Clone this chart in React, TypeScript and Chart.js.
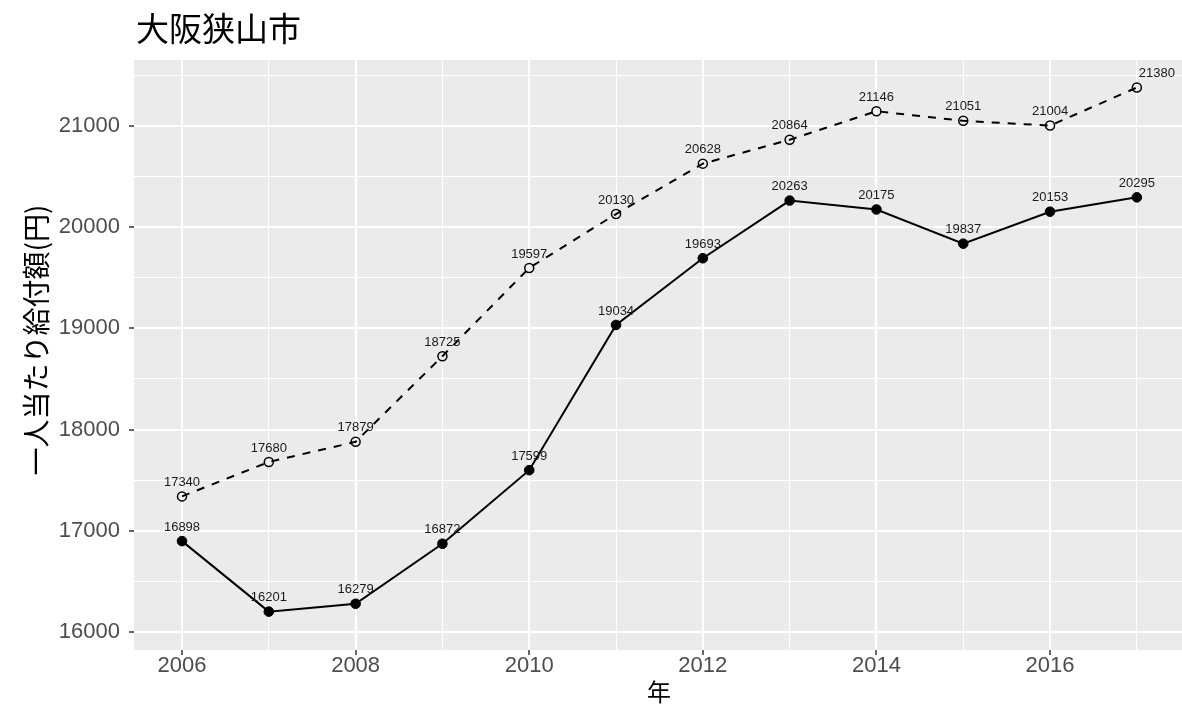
import React, { useEffect, useRef } from "react";
import { Chart, registerables } from "chart.js";

Chart.register(...registerables);

const years = [2006, 2007, 2008, 2009, 2010, 2011, 2012, 2013, 2014, 2015, 2016, 2017];
const solidValues = [16898, 16201, 16279, 16872, 17599, 19034, 19693, 20263, 20175, 19837, 20153, 20295];
const dashedValues = [17340, 17680, 17879, 18725, 19597, 20130, 20628, 20864, 21146, 21051, 21004, 21380];
const xGridValues = [2006, 2007, 2008, 2009, 2010, 2011, 2012, 2013, 2014, 2015, 2016, 2017];
const yGridValues = [16000, 16500, 17000, 17500, 18000, 18500, 19000, 19500, 20000, 20500, 21000, 21500];
const titleText = "大阪狭山市";
const xTitle = "年";
const yTitle = "一人当たり給付額(円)";

const CJK = '"Noto Sans CJK JP", "Noto Sans CJK SC", sans-serif';
const SANS = '"Liberation Sans", Arial, sans-serif';

const panelPlugin = {
  id: "panelBg",
  beforeDraw(chart: any) {
    const { ctx, chartArea } = chart;
    ctx.save();
    ctx.fillStyle = "#EBEBEB";
    ctx.fillRect(chartArea.left, chartArea.top, chartArea.right - chartArea.left, chartArea.bottom - chartArea.top);
    ctx.restore();
  },
  afterDraw(chart: any) {
    const { ctx } = chart;
    ctx.save();
    ctx.fillStyle = "#000000";
    ctx.font = `33px ${CJK}`;
    ctx.textAlign = "left";
    ctx.textBaseline = "alphabetic";
    ctx.fillText(titleText, 136, 41);

    ctx.font = `24px ${CJK}`;
    ctx.textAlign = "center";
    ctx.textBaseline = "middle";
    ctx.fillText(xTitle, 659, 692);

    ctx.translate(36, 340);
    ctx.rotate(-Math.PI / 2);
    ctx.font = `28px ${CJK}`;
    ctx.fillText(yTitle, 0, 0);
    ctx.restore();
  },
};

const labelPlugin = {
  id: "valueLabels",
  afterDatasetsDraw(chart: any) {
    const { ctx } = chart;
    ctx.save();
    ctx.font = `13px ${SANS}`;
    ctx.fillStyle = "#1a1a1a";
    ctx.textAlign = "center";
    ctx.textBaseline = "middle";
    chart.data.datasets.forEach((ds: any, di: number) => {
      const meta = chart.getDatasetMeta(di);
      meta.data.forEach((pt: any, i: number) => {
        const v = ds.data[i].y;
        const dx = di === 1 && i === ds.data.length - 1 ? 20 : 0;
        ctx.fillText(String(v), pt.x + dx, pt.y - 14);
      });
    });
    ctx.restore();
  },
};

export default function App() {
  const ref = useRef<HTMLCanvasElement | null>(null);
  useEffect(() => {
    if (!ref.current) return;
    const chart = new Chart(ref.current, {
      type: "line",
      data: {
        datasets: [
          {
            data: years.map((y, i) => ({ x: y, y: solidValues[i] })),
            borderColor: "#000000",
            backgroundColor: "#000000",
            borderWidth: 2,
            pointRadius: 4.8,
            pointBorderWidth: 1,
            pointBackgroundColor: "#000000",
            pointBorderColor: "#000000",
            tension: 0,
          },
          {
            data: years.map((y, i) => ({ x: y, y: dashedValues[i] })),
            borderColor: "#000000",
            backgroundColor: "transparent",
            borderWidth: 2,
            borderDash: [8, 8],
            pointRadius: 4.5,
            pointBorderWidth: 1.5,
            pointBackgroundColor: "rgba(0,0,0,0)",
            pointBorderColor: "#000000",
            tension: 0,
          },
        ],
      },
      options: {
        responsive: false,
        animation: false,
        devicePixelRatio: 1,
        layout: { autoPadding: false, padding: { top: 60, left: 0, right: 0, bottom: 0 } },
        plugins: { legend: { display: false }, tooltip: { enabled: false }, title: { display: false } },
        scales: {
          x: {
            type: "linear",
            min: 2005.447,
            max: 2017.52,
            afterBuildTicks: (scale: any) => {
              scale.ticks = xGridValues.map((v) => ({ value: v }));
            },
            afterFit: (scale: any) => {
              scale.height = 56;
            },
            ticks: {
              autoSkip: false,
              maxRotation: 0,
              minRotation: 0,
              padding: 0,
              color: "#4D4D4D",
              font: { family: SANS, size: 22, lineHeight: 1 },
              callback: (v: any) => (Number(v) % 2 === 0 ? String(v) : ""),
            },
            grid: {
              color: "#FFFFFF",
              lineWidth: (c: any) => (c.tick && c.tick.value % 2 === 0 ? 2 : 1),
              tickColor: (c: any) => (c.tick && c.tick.value % 2 === 0 ? "#333333" : "rgba(0,0,0,0)"),
              tickLength: 5,
              tickWidth: 1.5,
            },
            border: { display: false },
            title: { display: false },
          },
          y: {
            type: "linear",
            min: 15822,
            max: 21652,
            afterBuildTicks: (scale: any) => {
              scale.ticks = yGridValues.map((v) => ({ value: v }));
            },
            afterFit: (scale: any) => {
              scale.width = 134;
            },
            ticks: {
              padding: 9,
              color: "#4D4D4D",
              font: { family: SANS, size: 22, lineHeight: 1 },
              callback: (v: any) => (Number(v) % 1000 === 0 ? String(v) : ""),
            },
            grid: {
              color: "#FFFFFF",
              lineWidth: (c: any) => (c.tick && c.tick.value % 1000 === 0 ? 2 : 1),
              tickColor: (c: any) => (c.tick && c.tick.value % 1000 === 0 ? "#333333" : "rgba(0,0,0,0)"),
              tickLength: 5,
              tickWidth: 1.5,
            },
            border: { display: false },
            title: { display: false },
          },
        },
      },
      plugins: [panelPlugin, labelPlugin],
    } as any);
    return () => chart.destroy();
  }, []);
  return (
    <div style={{ position: "absolute", left: 0, top: 0, width: 1182, height: 706, background: "#FFFFFF" }}>
      <canvas ref={ref} width={1182} height={706} style={{ display: "block" }} />
    </div>
  );
}
